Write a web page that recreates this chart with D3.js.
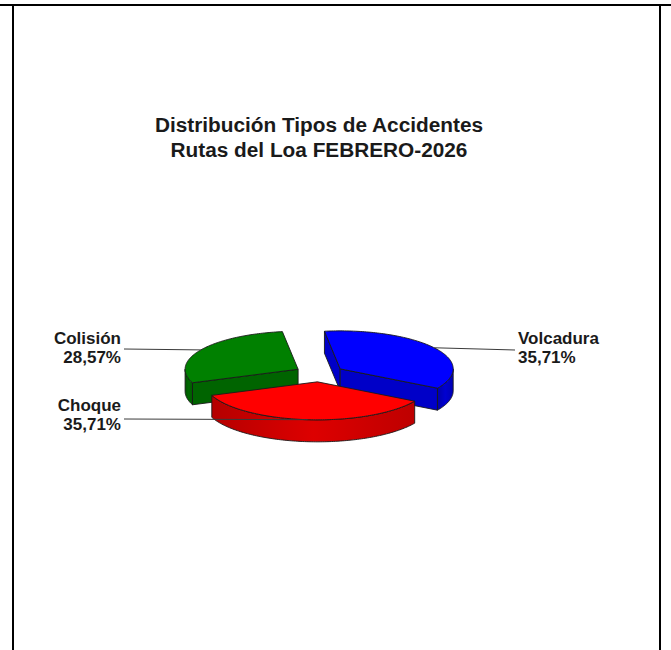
<!DOCTYPE html>
<html>
<head>
<meta charset="utf-8">
<script src="https://cdn.jsdelivr.net/npm/d3@7"></script>
<style>
html, body { margin: 0; padding: 0; background: #ffffff; }
svg { display: block; }
</style>
</head>
<body>
<svg id="chart" width="671" height="650"></svg>
<script>
// ---------- data ----------
const titleLines = ["Distribución Tipos de Accidentes", "Rutas del Loa FEBRERO-2026"];
const categories = ["Volcadura", "Choque", "Colisión"];
const counts = [5, 5, 4];
const topColors = ["#0000ff", "#ff0000", "#008000"];
const sideColors = ["#0000c8", "#d40000", "#006400"];

// ---------- layout ----------
const W = 671, H = 650;
const cx = 319.5, cy = 373.5;      // pie centre
const rx = 113, ry = 38;            // ellipse radii of the tilted pie
const depth = 22;                   // thickness
const explode = 0.22;               // slice explosion (fraction of radius)
const startAngle = -8 * Math.PI / 180;

// label anchors (layout only)
const labelLayout = {
  "Volcadura": { x: 518, y: 343.5, anchor: "start", lx: 515, ly: 350 },
  "Choque":    { x: 121, y: 410.5, anchor: "end", lx: 124, ly: 419 },
  "Colisión":  { x: 121, y: 344, anchor: "end", lx: 124, ly: 349 }
};

const svg = d3.select("#chart");

// frame
const frame = svg.append("g").attr("stroke", "#000").attr("stroke-width", 2);
frame.append("line").attr("x1", 0).attr("x2", W).attr("y1", 5).attr("y2", 5);
frame.append("line").attr("x1", 13).attr("x2", 13).attr("y1", 5).attr("y2", H);
frame.append("line").attr("x1", 660).attr("x2", 660).attr("y1", 5).attr("y2", H);

// title
const tg = svg.append("g").attr("transform", "translate(319,0) scale(1.04,1)");
tg.selectAll("text").data(titleLines).join("text")
  .attr("x", 0)
  .attr("y", (d, i) => 132 + i * 25)
  .attr("text-anchor", "middle")
  .attr("font-family", "Liberation Sans, Arial, sans-serif")
  .attr("font-weight", "bold")
  .attr("font-size", 20)
  .attr("fill", "#1a1a1a")
  .text(d => d);

// ---------- pie ----------
const total = d3.sum(counts);
const pie = d3.pie().sort(null).value(d => d)
  .startAngle(startAngle).endAngle(startAngle + 2 * Math.PI);
const arcs = pie(counts).map((a, i) => {
  const mid = (a.startAngle + a.endAngle) / 2;
  return {
    i, a0: a.startAngle, a1: a.endAngle, mid,
    name: categories[i], value: a.value,
    off: { x: explode * rx * Math.sin(mid), y: -explode * ry * Math.cos(mid) }
  };
});

function proj(a, r, z, off) {
  return [cx + off.x + rx * r * Math.sin(a), cy + off.y - ry * r * Math.cos(a) + z];
}
function arcPts(a0, a1, z, off) {
  const n = Math.max(2, Math.ceil(Math.abs(a1 - a0) / 0.02));
  const pts = [];
  for (let k = 0; k <= n; k++) pts.push(proj(a0 + (a1 - a0) * k / n, 1, z, off));
  return pts;
}
const poly = pts => "M" + pts.map(p => p[0].toFixed(2) + "," + p[1].toFixed(2)).join("L") + "Z";

// front-facing range of outer wall: angles where cos(a) < 0
function frontRanges(a0, a1) {
  const out = [];
  for (let k = -1; k <= 1; k++) {
    const lo = Math.PI / 2 + 2 * Math.PI * k, hi = 3 * Math.PI / 2 + 2 * Math.PI * k;
    const s = Math.max(a0, lo), e = Math.min(a1, hi);
    if (e > s) out.push([s, e]);
  }
  return out;
}

// gradients for walls
const defs = svg.append("defs");
arcs.forEach(d => {
  const c = d3.color(sideColors[d.i]);
  const g = defs.append("linearGradient").attr("id", "wall" + d.i)
    .attr("x1", "0%").attr("x2", "100%").attr("y1", "0%").attr("y2", "0%");
  g.append("stop").attr("offset", "0%").attr("stop-color", c.darker(0.45));
  g.append("stop").attr("offset", "50%").attr("stop-color", c.brighter(0.12));
  g.append("stop").attr("offset", "100%").attr("stop-color", c.darker(0.3));
});

const order = arcs.slice().sort((p, q) => (-Math.cos(p.mid)) - (-Math.cos(q.mid)));
const pieG = svg.append("g")
  .attr("stroke", "#1a1a1a").attr("stroke-width", 0.9).attr("stroke-linejoin", "round");

order.forEach(d => {
  const g = pieG.append("g");
  const apexT = proj(0, 0, 0, d.off), apexB = proj(0, 0, depth, d.off);
  if (Math.sin(d.a0) < 0) {
    g.append("path").attr("fill", sideColors[d.i])
      .attr("d", poly([apexT, proj(d.a0, 1, 0, d.off), proj(d.a0, 1, depth, d.off), apexB]));
  }
  if (Math.sin(d.a1) > 0) {
    g.append("path").attr("fill", sideColors[d.i])
      .attr("d", poly([apexT, proj(d.a1, 1, 0, d.off), proj(d.a1, 1, depth, d.off), apexB]));
  }
  frontRanges(d.a0, d.a1).forEach(([s, e]) => {
    const topPts = arcPts(s, e, 0, d.off);
    const botPts = arcPts(e, s, depth, d.off);
    g.append("path").attr("fill", `url(#wall${d.i})`).attr("d", poly(topPts.concat(botPts)));
  });
  g.append("path").attr("fill", topColors[d.i])
    .attr("d", poly([apexT].concat(arcPts(d.a0, d.a1, 0, d.off))));
});

// ---------- leader lines and labels ----------
const fmt = v => (v / total * 100).toFixed(2).replace(".", ",") + "%";
const lab = svg.append("g");
arcs.forEach(d => {
  const L = labelLayout[d.name];
  const end = proj(d.mid, 1, 0, d.off);
  lab.append("line")
    .attr("x1", L.lx).attr("y1", L.ly).attr("x2", end[0]).attr("y2", end[1])
    .attr("stroke", "#3a3a3a").attr("stroke-width", 1);
  const t = lab.append("text")
    .attr("text-anchor", L.anchor)
    .attr("font-family", "Liberation Sans, Arial, sans-serif")
    .attr("font-weight", "bold")
    .attr("font-size", 17)
    .attr("fill", "#1a1a1a");
  t.append("tspan").attr("x", L.x).attr("y", L.y).text(d.name);
  t.append("tspan").attr("x", L.x).attr("y", L.y + 19).text(fmt(d.value));
});
</script>
</body>
</html>
